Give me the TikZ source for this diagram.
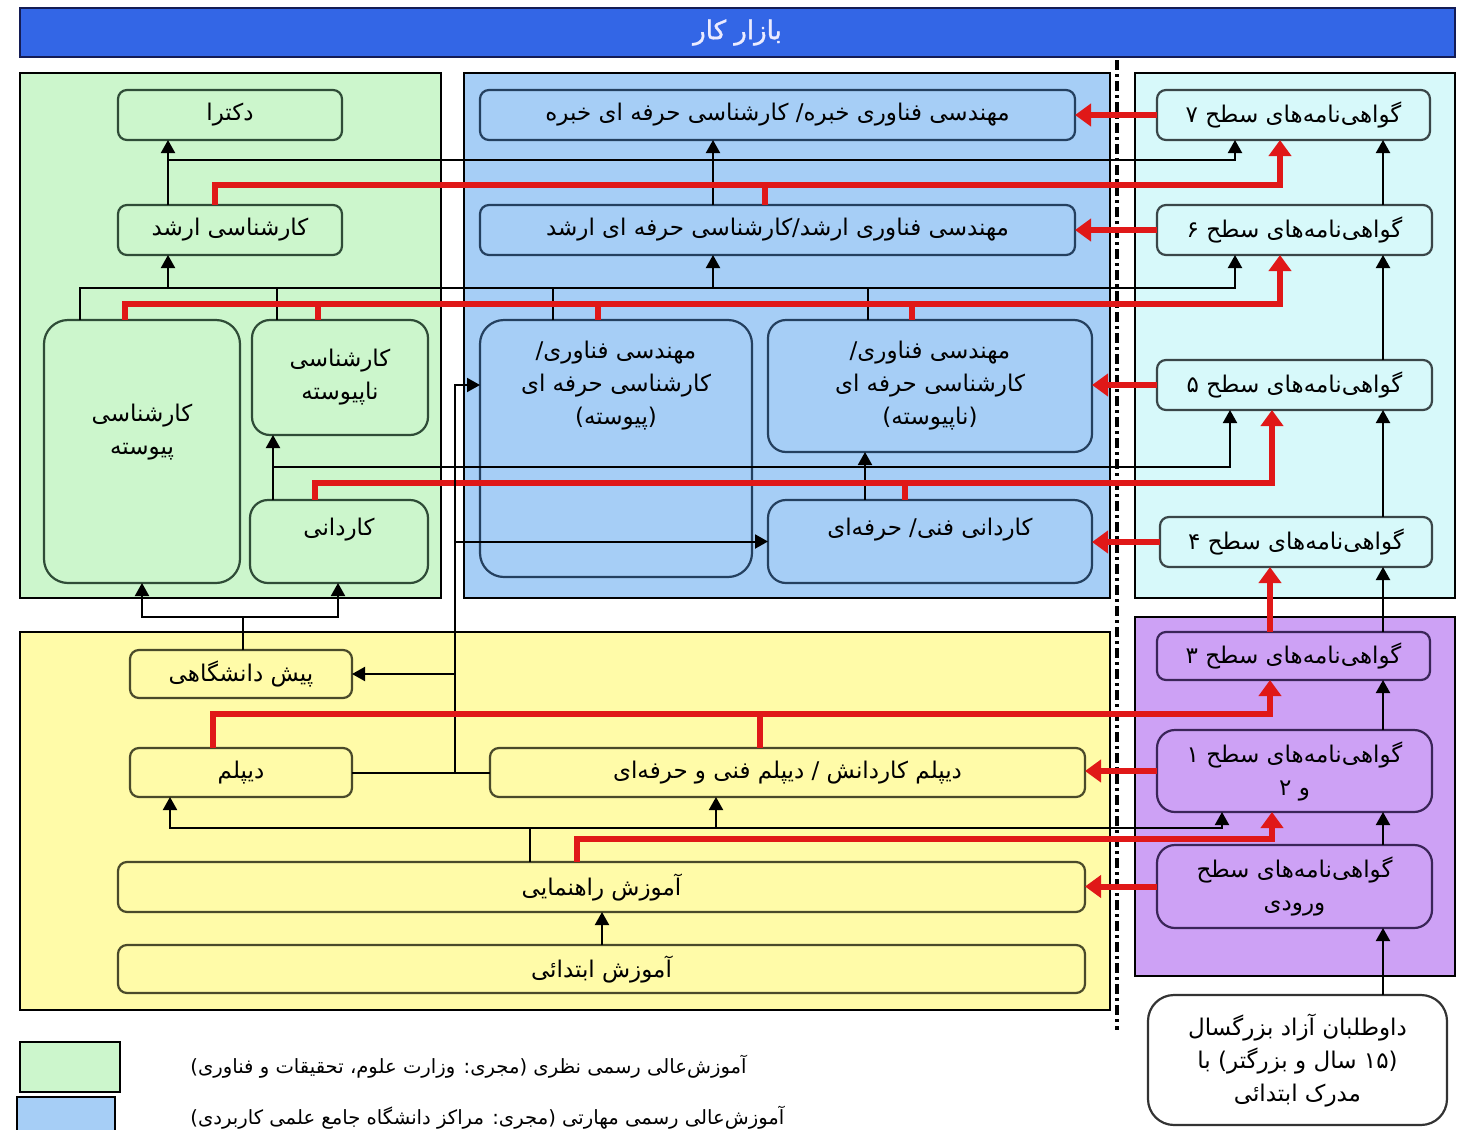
\documentclass[tikz,border=0pt]{standalone}
\usepackage{fontspec}
\usetikzlibrary{arrows.meta}
\TeXXeTstate=1
\newfontfamily\arabicfont[Script=Arabic]{DejaVu Sans}
\newfontfamily\arabicbold[Script=Arabic,FakeBold=1.5]{DejaVu Sans}
\newcommand\ft[1]{{\arabicfont\beginR #1\endR}}
\newcommand\ftb[1]{{\arabicbold\beginR #1\endR}}
\newcommand\bx[5]{\node[#1, minimum width={(#4-#2)*0.5pt}, minimum height={(#5-#3)*0.5pt}] at ({(#2+#4)/2},{(#3+#5)/2})}
\definecolor{barblue}{HTML}{3366E6}
\definecolor{barnavy}{HTML}{141C55}
\definecolor{bgGreen}{HTML}{CCF6CC}
\definecolor{bgBlue}{HTML}{A6CEF6}
\definecolor{bgCyan}{HTML}{D7F9FA}
\definecolor{bgYellow}{HTML}{FFFBA8}
\definecolor{bgPurple}{HTML}{CDA1F5}
\definecolor{bdGreen}{HTML}{2F4C37}
\definecolor{bdBlue}{HTML}{24405F}
\definecolor{bdCyan}{HTML}{3A4648}
\definecolor{bdYellow}{HTML}{4A4A2A}
\definecolor{bdPurple}{HTML}{3A2558}
\definecolor{redln}{HTML}{E01818}
\begin{document}
\begin{tikzpicture}[x=0.5pt,y=-0.5pt,
  box/.style={draw, rounded corners=4.5pt, line width=1.1pt, inner sep=2pt, outer sep=0pt,
    align=center, font=\fontsize{11.5}{16.5}\selectfont},
  gbox/.style={box, fill=bgGreen, draw=bdGreen},
  bbox/.style={box, fill=bgBlue, draw=bdBlue},
  cbox/.style={box, fill=bgCyan, draw=bdCyan},
  ybox/.style={box, fill=bgYellow, draw=bdYellow},
  pbox/.style={box, fill=bgPurple, draw=bdPurple},
  wbox/.style={box, fill=white, draw=black!80, rounded corners=13pt},
  bigR/.style={rounded corners=12pt},
  midR/.style={rounded corners=9pt},
  txt/.style={inner sep=0pt, align=center, font=\fontsize{11.5}{16.5}\selectfont},
  region/.style={draw=black, line width=1pt},
  blk/.style={line width=1pt, draw=black},
  blkA/.style={blk, -{Triangle[width=7pt,length=6.5pt]}},
  redl/.style={line width=3pt, draw=redln},
  redA/.style={redl, -{Triangle[width=11pt,length=8pt]}},
  legtxt/.style={inner sep=0pt, font=\fontsize{9.8}{11}\selectfont}
]
\useasboundingbox (0,0) rectangle (1468,1130);
\fill[white] (0,0) rectangle (1468,1130);

% ---------- regions ----------
\draw[region, fill=bgGreen] (20,73) rectangle (441,598);
\draw[region, fill=bgBlue] (464,73) rectangle (1110,598);
\draw[region, fill=bgCyan] (1135,73) rectangle (1455,598);
\draw[region, fill=bgYellow] (20,632) rectangle (1110,1010);
\draw[region, fill=bgPurple] (1135,617) rectangle (1455,976);
\draw[line width=1.7pt, dash pattern=on 5pt off 2pt on 1.5pt off 2pt] (1117,60) -- (1117,1030);

% ---------- top bar ----------
\bx{draw=barnavy, fill=barblue, line width=1.3pt, outer sep=0pt, text=white!92!blue, font=\fontsize{13}{15}\selectfont}{20}{8}{1455}{57} (bar) {\ftb{بازار کار}};

% ---------- green nodes ----------
\bx{gbox}{118}{90}{342}{140} (dok) {\ft{دکترا}};
\bx{gbox}{118}{205}{342}{255} (arshad) {\ft{کارشناسی ارشد}};
\bx{gbox,bigR}{44}{320}{240}{583} (kpey) {};
\node[txt] (kpeyT) at ([yshift=-56pt]kpey.north) {\ft{کارشناسی}\\\ft{پیوسته}};
\bx{gbox,midR}{252}{320}{428}{435} (knap) {\ft{کارشناسی}\\\ft{ناپیوسته}};
\bx{gbox,midR}{250}{500}{428}{583} (kard) {};
\node[txt] (kardT) at ([yshift=-15pt]kard.north) {\ft{کاردانی}};

% ---------- blue nodes ----------
\bx{bbox}{480}{90}{1075}{140} (khob) {\ft{مهندسی فناوری خبره/ کارشناسی حرفه ای خبره}};
\bx{bbox}{480}{205}{1075}{255} (marsh) {\ft{مهندسی فناوری ارشد/کارشناسی حرفه ای ارشد}};
\bx{bbox,bigR}{480}{320}{752}{577} (mpey) {};
\node[txt] (mpeyT) at ([yshift=-33pt]mpey.north) {\ft{مهندسی فناوری/}\\\ft{کارشناسی حرفه ای}\\\ft{(پیوسته)}};
\bx{bbox,midR}{768}{320}{1092}{452} (mnap) {\ft{مهندسی فناوری/}\\\ft{کارشناسی حرفه ای}\\\ft{(ناپیوسته)}};
\bx{bbox,midR}{768}{500}{1092}{583} (kfan) {};
\node[txt] (kfanT) at ([yshift=-15pt]kfan.north) {\ft{کاردانی فنی/ حرفه‌ای}};

% ---------- cyan nodes ----------
\bx{cbox}{1157}{90}{1430}{140} (s7) {\ft{گواهی‌نامه‌های سطح ۷}};
\bx{cbox}{1157}{205}{1432}{255} (s6) {\ft{گواهی‌نامه‌های سطح ۶}};
\bx{cbox}{1157}{360}{1432}{410} (s5) {\ft{گواهی‌نامه‌های سطح ۵}};
\bx{cbox}{1160}{517}{1432}{567} (s4) {\ft{گواهی‌نامه‌های سطح ۴}};

% ---------- purple nodes ----------
\bx{pbox}{1157}{632}{1430}{680} (s3) {\ft{گواهی‌نامه‌های سطح ۳}};
\bx{pbox,midR}{1157}{730}{1432}{812} (s12) {\ft{گواهی‌نامه‌های سطح ۱}\\\ft{و ۲}};
\bx{pbox,midR}{1157}{845}{1432}{928} (sv) {\ft{گواهی‌نامه‌های سطح}\\\ft{ورودی}};
\bx{wbox}{1148}{995}{1447}{1125} (vol) {\ft{داوطلبان آزاد بزرگسال}\\\ft{(۱۵ سال و بزرگتر) با}\\\ft{مدرک ابتدائی}};

% ---------- yellow nodes ----------
\bx{ybox}{130}{650}{352}{698} (pish) {\ft{پیش دانشگاهی}};
\bx{ybox}{130}{748}{352}{797} (dip) {\ft{دیپلم}};
\bx{ybox}{490}{748}{1085}{797} (dipk) {\ft{دیپلم کاردانش / دیپلم فنی و حرفه‌ای}};
\bx{ybox}{118}{862}{1085}{912} (rah) {\ft{آموزش راهنمایی}};
\bx{ybox}{118}{945}{1085}{993} (ebt) {\ft{آموزش ابتدائی}};

% ---------- legend ----------
\bx{draw=black, line width=1pt, fill=bgGreen, outer sep=0pt}{20}{1042}{120}{1092} (lg1) {};
\bx{draw=black, line width=1pt, fill=bgBlue, outer sep=0pt}{17}{1097}{115}{1140} (lg2) {};
\node[legtxt, anchor=west] (lt1) at (190,1067) {\ft{آموزش‌عالی رسمی نظری (مجری: وزارت علوم، تحقیقات و فناوری)}};
\node[legtxt, anchor=west] (lt2) at (190,1118) {\ft{آموزش‌عالی رسمی مهارتی (مجری: مراکز دانشگاه جامع علمی کاربردی)}};

% ---------- bus coordinates ----------
\coordinate (bus7) at (0,160);
\coordinate (red7) at (0,185);
\coordinate (bus6) at (0,288);
\coordinate (red6) at (0,304);
\coordinate (bus5) at (0,467);
\coordinate (red5) at (0,483);
\coordinate (busU) at (0,617);
\coordinate (red3) at (0,714);
\coordinate (bus2) at (0,828);
\coordinate (red2) at (0,839);
\coordinate (busV) at (455,0);

% ---------- level 7 ----------
\draw[blkA] (arshad.north -| 168,0) -- (dok.south -| 168,0);
\draw[blkA] (arshad.north -| 168,0) |- (1235,0 |- bus7) -- (s7.south -| 1235,0);
\draw[blkA] (marsh.north -| 713,0) -- (khob.south -| 713,0);
\draw[redA] (arshad.north -| 215,0) |- (1280,0 |- red7) -- (s7.south -| 1280,0);
\draw[redl] (marsh.north -| 765,0) -- (765,0 |- red7);

% ---------- level 6 ----------
\draw[blkA] (kpey.north -| 80,0) |- (1235,0 |- bus6) -- (s6.south -| 1235,0);
\draw[blk] (knap.north -| 277,0) -- (277,0 |- bus6);
\draw[blkA] (168,0 |- bus6) -- (arshad.south -| 168,0);
\draw[blk] (mpey.north -| 553,0) -- (553,0 |- bus6);
\draw[blk] (mnap.north -| 868,0) -- (868,0 |- bus6);
\draw[blkA] (713,0 |- bus6) -- (marsh.south -| 713,0);
\draw[redA] (kpey.north -| 125,0) |- (1280,0 |- red6) -- (s6.south -| 1280,0);
\draw[redl] (knap.north -| 318,0) -- (318,0 |- red6);
\draw[redl] (mpey.north -| 598,0) -- (598,0 |- red6);
\draw[redl] (mnap.north -| 912,0) -- (912,0 |- red6);

% ---------- level 5 ----------
\draw[blkA] (kard.north -| 273,0) -- (knap.south -| 273,0);
\draw[blkA] (kard.north -| 273,0) |- (1230,0 |- bus5) -- (s5.south -| 1230,0);
\draw[blkA] (kfan.north -| 865,0) -- (mnap.south -| 865,0);
\draw[redA] (kard.north -| 315,0) |- (1272,0 |- red5) -- (s5.south -| 1272,0);
\draw[redl] (kfan.north -| 905,0) -- (905,0 |- red5);

% ---------- pre-university ----------
\draw[blk] (pish.north -| 243,0) -- (243,0 |- busU);
\draw[blkA] (243,0 |- busU) -| (kpey.south -| 142,0);
\draw[blkA] (243,0 |- busU) -| (kard.south -| 338,0);

% ---------- diploma links ----------
\draw[blk] (dip.east) -- (dipk.west);
\draw[blkA] (busV |- dip.east) |- (mpey.west |- 0,385);
\draw[blkA] (busV |- kfan.west) -- (kfan.west);
\draw[blkA] (busV |- pish.east) -- (pish.east);

% ---------- guidance level ----------
\draw[blk] (rah.north -| 530,0) -- (530,0 |- bus2);
\draw[blkA] (530,0 |- bus2) -| (dip.south -| 170,0);
\draw[blkA] (530,0 |- bus2) -| (s12.south -| 1222,0);
\draw[blkA] (716,0 |- bus2) -- (dipk.south -| 716,0);
\draw[redA] (rah.north -| 577,0) |- (1272,0 |- red2) -- (s12.south -| 1272,0);
\draw[redA] (dip.north -| 213,0) |- (1270,0 |- red3) -- (s3.south -| 1270,0);
\draw[redl] (dipk.north -| 760,0) -- (760,0 |- red3);
\draw[blkA] (ebt.north -| 602,0) -- (rah.south -| 602,0);

% ---------- certificate column ----------
\draw[blkA] (s6.north -| 1383,0) -- (s7.south -| 1383,0);
\draw[blkA] (s5.north -| 1383,0) -- (s6.south -| 1383,0);
\draw[blkA] (s4.north -| 1383,0) -- (s5.south -| 1383,0);
\draw[blkA] (s3.north -| 1383,0) -- (s4.south -| 1383,0);
\draw[blkA] (s12.north -| 1383,0) -- (s3.south -| 1383,0);
\draw[blkA] (sv.north -| 1383,0) -- (s12.south -| 1383,0);
\draw[blkA] (vol.north -| 1383,0) -- (sv.south -| 1383,0);
\draw[redA] (s3.north -| 1270,0) -- (s4.south -| 1270,0);

% ---------- certificates to programmes ----------
\draw[redA] (s7.west) -- (khob.east |- s7.west);
\draw[redA] (s6.west) -- (marsh.east |- s6.west);
\draw[redA] (s5.west) -- (mnap.east |- s5.west);
\draw[redA] (s4.west) -- (kfan.east |- s4.west);
\draw[redA] (s12.west) -- (dipk.east |- s12.west);
\draw[redA] (sv.west) -- (rah.east |- sv.west);
\end{tikzpicture}
\end{document}
